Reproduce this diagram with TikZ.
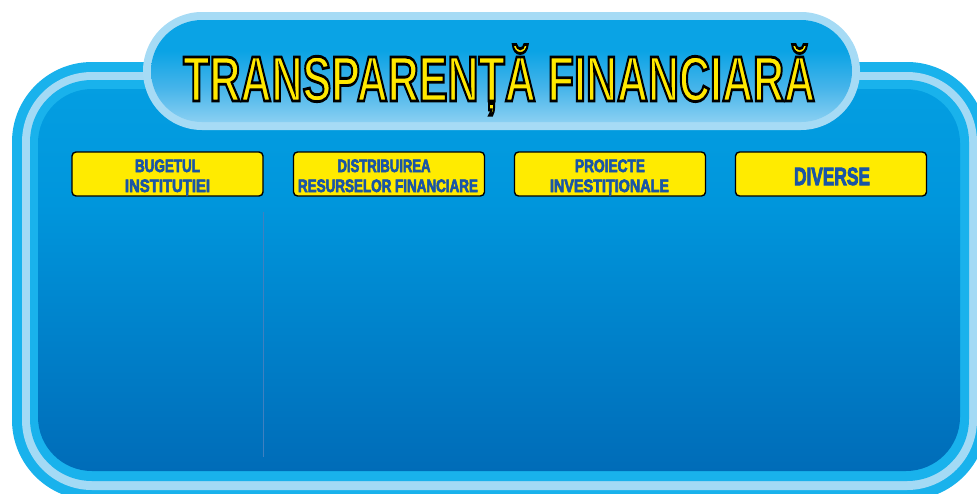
\documentclass[tikz,border=0pt]{standalone}
\usepackage{fontspec}
\setmainfont{Liberation Sans}
\newfontfamily\titlefont{Liberation Sans}[FakeBold=4.5]
\newfontfamily\boxfont{Liberation Sans}[FakeBold=4]
\usepackage{graphicx}
\definecolor{rimcyan}{HTML}{19B2EC}
\definecolor{rimlight}{HTML}{A3DAF5}
\definecolor{pdeep}{HTML}{0056A4}
\definecolor{pdark}{HTML}{0066B3}
\definecolor{pmid}{HTML}{0096DC}
\definecolor{ptop}{HTML}{06A3E5}
\definecolor{pilllight}{HTML}{A6DBF5}
\definecolor{pillcyan}{HTML}{0AA3E5}
\definecolor{pillmid}{HTML}{45B4EA}
\definecolor{titleyellow}{HTML}{FFE800}
\definecolor{boxyellow}{HTML}{FFEB00}
\definecolor{txtblue}{HTML}{1A55A5}
\definecolor{sepline}{HTML}{3F80C0}
\pgfdeclareverticalshading{panelshade}{100bp}{color(0bp)=(pdeep); color(20bp)=(pdark); color(60bp)=(pmid); color(85bp)=(ptop); color(100bp)=(ptop)}
\pgfdeclareverticalshading{pillshade}{100bp}{color(0bp)=(pilllight); color(18bp)=(pilllight); color(42bp)=(pillmid); color(60bp)=(pillcyan); color(100bp)=(pillcyan)}
\newcommand\titletext{\resizebox{632pt}{\height}{\fontsize{64}{64}\selectfont\titlefont\bfseries
  \special{pdf:bcolor [1 0.91 0] [0 0 0]}TRANSPARENȚĂ FINANCIARĂ\special{pdf:ecolor}}}
\newcommand\heavy[2]{\resizebox{#1pt}{\height}{#2}}
\tikzset{
  titlecopy/.style={inner sep=0pt, anchor=base west},
  ybox/.style={draw=black, line width=1.4pt, fill=boxyellow, rounded corners=4pt,
    minimum width=191pt, minimum height=44pt, inner sep=0pt},
  boxtxt/.style={text=txtblue, inner sep=0pt, anchor=base,
    font=\fontsize{18}{18}\selectfont\boxfont\bfseries},
  bigtxt/.style={text=txtblue, inner sep=0pt, anchor=base,
    font=\fontsize{25}{25}\selectfont\boxfont\bfseries}
}
\begin{document}
\begin{tikzpicture}[x=1pt,y=-1pt]
\useasboundingbox (0,0) rectangle (977,493);
\clip (0,0) rectangle (977,493);
% main panel layers
\fill[rimcyan, rounded corners=80pt] (12,62) rectangle (987,500);
\fill[rimlight, rounded corners=70pt] (22,72) rectangle (977,490);
\fill[rimcyan, rounded corners=62pt] (30,80) rectangle (969,481);
\shade[shading=panelshade, rounded corners=54pt] (38,89) rectangle (960,471);
% title pill
\fill[pilllight, rounded corners=59pt] (143,12) rectangle (860,130);
\shade[shading=pillshade, rounded corners=51pt] (151,20) rectangle (852,122);
% title text (yellow fill, black stroke)
\node[titlecopy, text=titleyellow] (title) at (183,101) {\titletext};
% column boxes
\node[ybox] (box1) at (167.5,174) {};
\node[ybox] (box2) at (389,174) {};
\node[ybox] (box3) at (610,174) {};
\node[ybox] (box4) at (831,174) {};
\node[boxtxt] (b1a) at (167.5,172) {\heavy{65}{BUGETUL}};
\node[boxtxt] (b1b) at (167.5,192) {\heavy{85}{INSTITUȚIEI}};
\node[boxtxt] (b2a) at (384,172) {\heavy{93}{DISTRIBUIREA}};
\node[boxtxt] (b2b) at (388,192) {\heavy{180}{RESURSELOR FINANCIARE}};
\node[boxtxt] (b3a) at (610,172) {\heavy{70}{PROIECTE}};
\node[boxtxt] (b3b) at (609.5,192) {\heavy{119}{INVESTIȚIONALE}};
\node[bigtxt] (b4a) at (832,185) {\heavy{76}{DIVERSE}};
% separator line
\coordinate (sepTop) at (263,212);
\coordinate (sepBot) at (263,457);
\draw[sepline, line width=0.8pt] (sepTop) -- (sepBot);
\end{tikzpicture}
\end{document}
